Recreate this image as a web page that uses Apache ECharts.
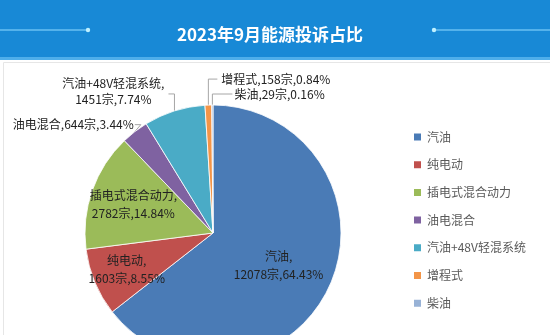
<!DOCTYPE html>
<html>
<head>
<meta charset="utf-8">
<script src="https://cdn.jsdelivr.net/npm/echarts@6/dist/echarts.min.js"></script>
<style>
html,body{margin:0;padding:0;background:#fff;}
#chart{width:550px;height:335px;}
</style>
</head>
<body>
<div id="chart"></div>
<script>
// ---- data ----
const titleText = '2023年9月能源投诉占比';
const categories = ['汽油', '纯电动', '插电式混合动力', '油电混合', '汽油+48V轻混系统', '增程式', '柴油'];
const values = [12078, 1603, 2782, 644, 1451, 158, 29];
const unitText = '宗';

// ---- style ----
const colors = ['#4a7bb6', '#c0504d', '#9bbb59', '#7f62a1', '#4aabc6', '#f39548', '#98b2d6'];
const FONT = '"Noto Sans CJK SC", "Noto Sans", sans-serif';
const CENTER = [213, 233];
const RADIUS = 128;
// inside labels: radial position as fraction of radius
const INSIDE = {0: 0.57, 1: 0.73, 2: 0.66};
// outside labels
const OUTSIDE = {
  3: {up: 7, run: -6, gap: 1, lines: 1, shiftX: 6},
  4: {up: 17, run: -6, gap: 4, lines: 2, shiftX: 0},
  5: {up: 26, run: 9, gap: 4, lines: 1, shiftX: 0},
  6: {up: 11, run: 20, gap: 2, lines: 1, shiftX: 0}
};
const TWO_LINE = {0: true, 1: true, 2: true, 4: true};

const chart = echarts.init(document.getElementById('chart'), null, {renderer: 'canvas'});

const seriesData = categories.map(function (n, i) {
  const inside = INSIDE[i] != null;
  return {
    name: n,
    value: values[i],
    itemStyle: {color: colors[i]},
    label: {position: inside ? 'inside' : 'outside', lineHeight: inside ? 18 : 16},
    labelLine: {show: !inside}
  };
});

const option = {
  backgroundColor: '#ffffff',
  animation: false,
  graphic: [
    {type: 'rect', left: 0, top: 0, shape: {width: 550, height: 57}, style: {fill: '#1889d6'}, z: 0},
    {type: 'rect', left: 0, top: 57, shape: {width: 550, height: 3}, style: {fill: '#4eaeea'}, z: 0},
    {type: 'rect', left: 1, top: 60, shape: {width: 547, height: 280}, style: {fill: 'none', stroke: '#e6e6e6', lineWidth: 1}, z: 0},
    {type: 'line', shape: {x1: 0, y1: 30, x2: 88, y2: 30}, style: {stroke: '#8fdcff', lineWidth: 1.2}, z: 1},
    {type: 'circle', shape: {cx: 88, cy: 30, r: 2.2}, style: {fill: '#bff0ff'}, z: 1},
    {type: 'line', shape: {x1: 434, y1: 30, x2: 550, y2: 30}, style: {stroke: '#8fdcff', lineWidth: 1.2}, z: 1},
    {type: 'circle', shape: {cx: 434, cy: 30, r: 2.2}, style: {fill: '#bff0ff'}, z: 1}
  ],
  title: {
    text: titleText,
    left: 265,
    top: 30,
    textAlign: 'center',
    textVerticalAlign: 'middle',
    textStyle: {color: '#ffffff', fontSize: 17, fontWeight: 'bold', fontFamily: FONT}
  },
  legend: {
    orient: 'vertical',
    left: 407,
    top: 125,
    icon: 'rect',
    itemWidth: 9,
    itemHeight: 9,
    itemGap: 13.7,
    selectedMode: false,
    data: categories,
    textStyle: {color: '#595959', fontSize: 12, fontFamily: FONT, lineHeight: 14}
  },
  series: [{
    type: 'pie',
    center: CENTER,
    radius: [0, RADIUS],
    startAngle: 90,
    clockwise: true,
    avoidLabelOverlap: false,
    itemStyle: {borderColor: '#ffffff', borderWidth: 0.8},
    label: {
      fontSize: 12,
      fontFamily: FONT,
      color: '#222222',
      lineHeight: 16,
      formatter: function (p) {
        const sep = TWO_LINE[p.dataIndex] ? ',\n' : ',';
        return p.name + sep + p.value + unitText + ',' + p.percent.toFixed(2) + '%';
      }
    },
    labelLine: {length: 4, length2: 4, lineStyle: {color: '#a6a6a6', width: 1}},
    labelLayout: function (p) {
      const i = p.dataIndex;
      const r = p.labelRect;
      if (INSIDE[i] != null) {
        const lx = r.x + r.width / 2, ly = r.y + r.height / 2;
        const vx = lx - CENTER[0], vy = ly - CENTER[1];
        const d = Math.hypot(vx, vy) || 1;
        const t = INSIDE[i] * RADIUS;
        return {
          x: CENTER[0] + vx / d * t,
          y: CENTER[1] + vy / d * t,
          align: 'center',
          verticalAlign: 'middle'
        };
      }
      const o = OUTSIDE[i];
      const pts = p.labelLinePoints;
      if (!o || !pts) return {};
      const p0 = pts[0];
      const p1 = [p0[0] + o.shiftX, p0[1] - o.up];
      const p2 = [p1[0] + o.run, p1[1]];
      const left = o.run < 0;
      if (o.lines === 2) {
        return {
          x: p2[0] - o.gap - r.width / 2,
          y: p2[1] - 3,
          align: 'center',
          verticalAlign: 'middle',
          labelLinePoints: [p0, p1, p2]
        };
      }
      return {
        x: left ? p2[0] - o.gap : p2[0] + o.gap,
        y: p2[1],
        align: left ? 'right' : 'left',
        verticalAlign: 'middle',
        labelLinePoints: [p0, p1, p2]
      };
    },
    data: seriesData
  }]
};
chart.setOption(option);
</script>
</body>
</html>
